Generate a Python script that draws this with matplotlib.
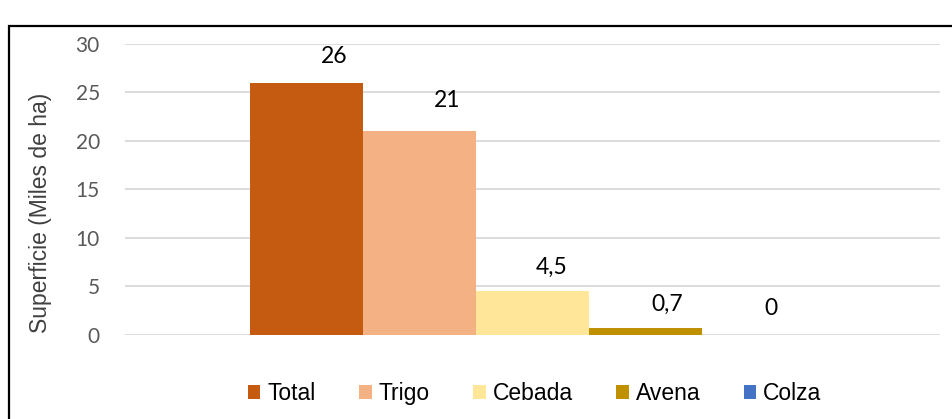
import numpy as np
import matplotlib.pyplot as plt
from matplotlib.patches import Rectangle

# Data
series = ['Total', 'Trigo', 'Cebada', 'Avena', 'Colza']
values = [26, 21, 4.5, 0.7, 0]
labels = ['26', '21', '4,5', '0,7', '0']
bar_colors = ['#C55A11', '#F4B183', '#FFE699', '#BF9000', '#4472C4']
yticks = [0, 5, 10, 15, 20, 25, 30]

# label nudges (points) to mimic the Excel placement
label_dx = [20, 20, 14, 16, 9]
label_dy = [19, 22, 17, 17, 19]

fig = plt.figure(figsize=(9.53, 4.19), dpi=100)
ax = fig.add_axes([0.131, 0.2005, 0.855, 0.6945])

w = 113. / 815.
offsets = (np.arange(len(series)) - 2) * w
for off, v, c, s in zip(offsets, values, bar_colors, series):
    ax.bar(off, v, width=w, color=c, label=s, zorder=2)
for off, v, lab, dx, dy in zip(offsets, values, labels, label_dx, label_dy):
    ax.annotate(lab, xy=(off, v), xytext=(dx, dy), textcoords='offset points',
                ha='center', va='center', fontsize=16.5, family='Lato', color='black')

ax.set_xlim(-0.5, 0.5)
ax.set_ylim(0, 30)
ax.set_yticks(yticks)
ax.set_xticks([])
ax.yaxis.grid(True, color='#D9D9D9', linewidth=1.3, zorder=0)
ax.set_axisbelow(True)
for sp in ax.spines.values():
    sp.set_visible(False)
ax.tick_params(axis='y', length=0, pad=18, labelsize=15, labelcolor='#595959')
plt.setp(ax.get_yticklabels(), family='Lato')
ax.set_ylabel('Superficie (Miles de ha)', fontsize=16.5, family='Liberation Sans', color='#404040')
ax.yaxis.set_label_coords(-0.09, 0.42)

# Legend
fig.legend(loc='center', bbox_to_anchor=(0.561, 0.06), ncol=5, frameon=False,
           prop={'family': 'Liberation Sans', 'size': 16.5},
           handlelength=0.55, handleheight=0.55, handletextpad=0.3, columnspacing=1.9)

# Outer frame
fig.patches.append(Rectangle((0.0094, -0.05), 1.05, 0.988, transform=fig.transFigure,
                             fill=False, edgecolor='black', linewidth=1.6, clip_on=False))

plt.savefig('out.png', dpi=100)
plt.close()
